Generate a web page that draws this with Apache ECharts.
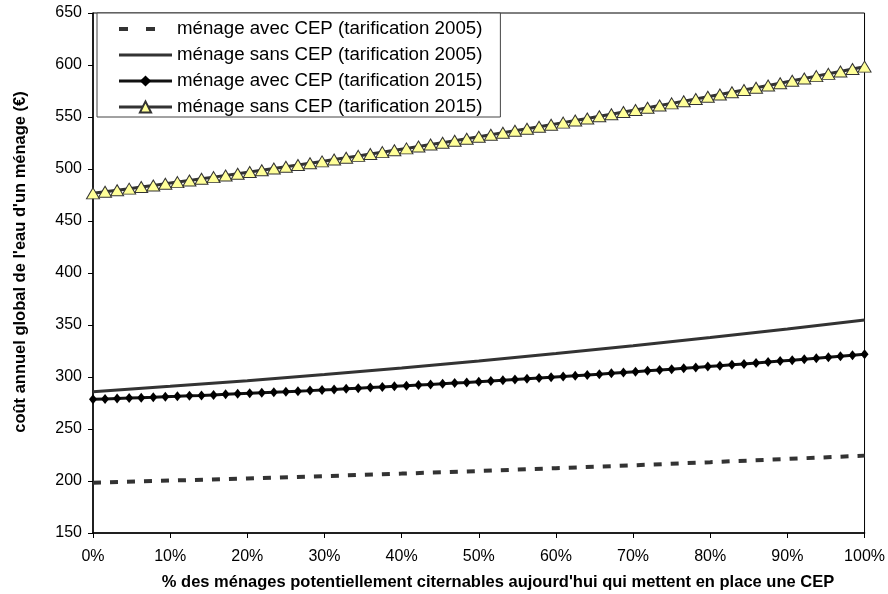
<!DOCTYPE html>
<html>
<head>
<meta charset="utf-8">
<script src="https://cdn.jsdelivr.net/npm/echarts@6/dist/echarts.min.js"></script>
<style>
  html, body { margin: 0; padding: 0; background: #fff; }
  #chart { width: 888px; height: 594px; }
</style>
</head>
<body>
<div id="chart"></div>
<script>
// X positions (% of households) for the marker series
const xPct = [0, 1.5625, 3.125, 4.6875, 6.25, 7.8125, 9.375, 10.9375, 12.5, 14.0625, 15.625, 17.1875, 18.75, 20.3125, 21.875, 23.4375, 25, 26.5625, 28.125, 29.6875, 31.25, 32.8125, 34.375, 35.9375, 37.5, 39.0625, 40.625, 42.1875, 43.75, 45.3125, 46.875, 48.4375, 50, 51.5625, 53.125, 54.6875, 56.25, 57.8125, 59.375, 60.9375, 62.5, 64.0625, 65.625, 67.1875, 68.75, 70.3125, 71.875, 73.4375, 75, 76.5625, 78.125, 79.6875, 81.25, 82.8125, 84.375, 85.9375, 87.5, 89.0625, 90.625, 92.1875, 93.75, 95.3125, 96.875, 98.4375, 100];
// X positions for the plain line series
const xDecile = [0, 10, 20, 30, 40, 50, 60, 70, 80, 90, 100];

const seriesNames = [
  "ménage avec CEP (tarification 2005)",
  "ménage sans CEP (tarification 2005)",
  "ménage avec CEP (tarification 2015)",
  "ménage sans CEP (tarification 2015)"
];

const avec2005 = [198.4, 200.4, 202.4, 204.7, 207.1, 209.6, 212.3, 215.1, 218.1, 221.2, 224.4];
const sans2005 = [285.9, 291.0, 296.5, 302.4, 308.7, 315.4, 322.5, 330.0, 337.9, 346.1, 354.8];
const avec2015 = [278.5, 278.9, 279.3, 279.7, 280.1, 280.5, 281.0, 281.4, 281.9, 282.3, 282.8, 283.3, 283.8, 284.3, 284.8, 285.3, 285.8, 286.4, 286.9, 287.5, 288.0, 288.6, 289.2, 289.8, 290.4, 291.0, 291.6, 292.2, 292.9, 293.5, 294.2, 294.8, 295.5, 296.2, 296.9, 297.6, 298.3, 299.0, 299.7, 300.5, 301.2, 302.0, 302.7, 303.5, 304.3, 305.1, 305.9, 306.7, 307.5, 308.3, 309.1, 310.0, 310.8, 311.7, 312.6, 313.5, 314.4, 315.3, 316.2, 317.1, 318.0, 318.9, 319.9, 320.8, 321.8];
const sans2015 = [476.6, 478.1, 479.6, 481.1, 482.7, 484.2, 485.8, 487.4, 489.0, 490.6, 492.2, 493.8, 495.5, 497.1, 498.8, 500.5, 502.2, 503.9, 505.6, 507.3, 509.1, 510.8, 512.6, 514.4, 516.2, 518.0, 519.8, 521.6, 523.5, 525.3, 527.2, 529.1, 531.0, 532.9, 534.8, 536.8, 538.7, 540.7, 542.6, 544.6, 546.6, 548.6, 550.7, 552.7, 554.8, 556.8, 558.9, 561.0, 563.1, 565.2, 567.3, 569.5, 571.6, 573.8, 575.9, 578.1, 580.3, 582.5, 584.8, 587.0, 589.3, 591.5, 593.8, 596.1, 598.4];

const xTitle = "% des ménages potentiellement citernables aujourd'hui qui mettent en place une CEP";
const yTitle = "coût annuel global de l'eau d'un ménage (€)";

function pairs(xs, ys) { return xs.map((x, i) => [x, ys[i]]); }

const FONT = "'Liberation Sans', Arial, sans-serif";
const chart = echarts.init(document.getElementById('chart'), null, { renderer: 'canvas' });
const hiddenSymbol = { color: 'rgba(0,0,0,0)', borderColor: 'rgba(0,0,0,0)', borderWidth: 0 };

chart.setOption({
  animation: false,
  backgroundColor: '#fff',
  textStyle: { fontFamily: FONT },
  grid: { left: 93, right: 21, top: 13, bottom: 61, show: true, borderColor: '#000', borderWidth: 1, backgroundColor: 'transparent' },
  legend: {
    orient: 'vertical',
    left: 97, top: 13,
    padding: [6, 18, 0, 20],
    backgroundColor: '#fff',
    borderColor: '#444', borderWidth: 1,
    itemWidth: 53, itemHeight: 14, itemGap: 6,
    lineStyle: { width: 3 },
    textStyle: { fontFamily: FONT, fontSize: 18.7, color: '#000', lineHeight: 20 },
    data: [
      { name: seriesNames[0], itemStyle: hiddenSymbol, lineStyle: { width: 4, type: [9, 18], color: '#333' } },
      { name: seriesNames[1], itemStyle: hiddenSymbol, lineStyle: { width: 3, color: '#333' } },
      { name: seriesNames[2], lineStyle: { width: 3, color: '#111' } },
      { name: seriesNames[3], lineStyle: { width: 3, color: '#333' } }
    ]
  },
  xAxis: {
    type: 'value', min: 0, max: 100, interval: 10,
    axisLine: { lineStyle: { color: '#000', width: 1.5 } },
    axisTick: { show: true, length: 5, lineStyle: { color: '#000' } },
    axisLabel: { formatter: '{value}%', color: '#000', fontSize: 16, margin: 16, fontFamily: FONT },
    splitLine: { show: false }
  },
  yAxis: {
    type: 'value', min: 150, max: 650, interval: 50,
    axisLine: { show: true, lineStyle: { color: '#000', width: 1.5 } },
    axisTick: { show: true, length: 5, lineStyle: { color: '#000' } },
    axisLabel: { color: '#000', fontSize: 16, margin: 11, fontFamily: FONT },
    splitLine: { show: false }
  },
  graphic: [
    { type: 'text', x: 498, y: 582, style: { text: xTitle, fontFamily: FONT, fontSize: 16.5, fontWeight: 'bold', fill: '#000', align: 'center', verticalAlign: 'middle' } },
    { type: 'text', x: 20, y: 262, rotation: Math.PI / 2, style: { text: yTitle, fontFamily: FONT, fontSize: 16.5, fontWeight: 'bold', fill: '#000', align: 'center', verticalAlign: 'middle' } }
  ],
  series: [
    {
      name: seriesNames[0], type: 'line', data: pairs(xDecile, avec2005),
      showSymbol: false, symbol: 'none', clip: false,
      lineStyle: { color: '#333', width: 4, type: [8, 9] }, itemStyle: { color: '#333' }, z: 2
    },
    {
      name: seriesNames[1], type: 'line', data: pairs(xDecile, sans2005),
      showSymbol: false, symbol: 'none', clip: false,
      lineStyle: { color: '#333', width: 3 }, itemStyle: { color: '#333' }, z: 3
    },
    {
      name: seriesNames[2], type: 'line', data: pairs(xPct, avec2015),
      symbol: 'diamond', symbolSize: [8, 10], clip: false,
      lineStyle: { color: '#111', width: 3 }, itemStyle: { color: '#000', borderWidth: 0 }, z: 4
    },
    {
      name: seriesNames[3], type: 'line', data: pairs(xPct, sans2015),
      symbol: 'triangle', symbolSize: [13, 11], clip: false,
      lineStyle: { color: '#333', width: 3 }, itemStyle: { color: '#ffff99', borderColor: '#333', borderWidth: 1 }, z: 5
    }
  ]
});
</script>
</body>
</html>
